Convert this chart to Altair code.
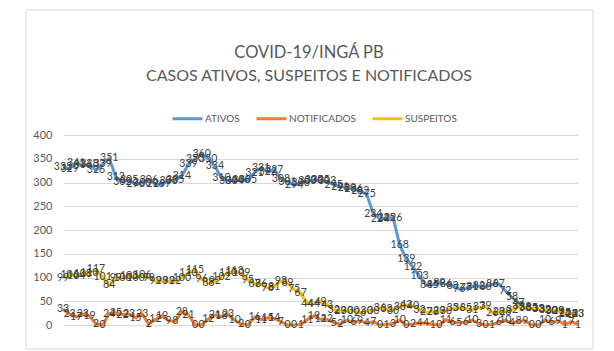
import altair as alt
import pandas as pd

ativos = [332, 329, 341, 336, 338, 326, 339, 351, 312, 302, 305, 296, 300, 306, 296, 297,
          303, 305, 314, 339, 350, 360, 350, 334, 310, 304, 304, 306, 305, 321, 331, 322,
          327, 308, 301, 294, 300, 303, 305, 305, 303, 295, 291, 289, 286, 282, 275, 234,
          224, 225, 226, 168, 139, 122, 103, 84, 85, 89, 86, 83, 76, 77, 81, 82, 80, 86,
          87, 72, 58, 47, 36, 35, 33, 32, 30, 29, 25, 24, 23]
notificados = [33, 23, 17, 23, 19, 2, 0, 24, 25, 22, 23, 15, 23, 2, 12, 19, 9, 8, 28, 21,
               0, 0, 12, 21, 18, 23, 10, 2, 0, 16, 11, 15, 14, 7, 0, 0, 1, 11, 19, 12, 12,
               5, 2, 10, 6, 9, 4, 7, 0, 1, 3, 10, 0, 2, 4, 4, 1, 0, 11, 6, 5, 6, 10, 3, 0,
               1, 6, 10, 4, 8, 9, 0, 0, 10, 6, 9, 1, 7, 1]
suspeitos = [99, 106, 104, 108, 110, 117, 101, 84, 99, 100, 103, 100, 106, 99, 92, 93, 92,
             92, 100, 110, 115, 96, 88, 92, 102, 110, 113, 109, 95, 87, 86, 78, 81, 93, 89,
             75, 67, 44, 44, 49, 43, 32, 29, 30, 30, 26, 30, 30, 36, 33, 30, 38, 42, 40, 32,
             27, 28, 29, 30, 35, 36, 35, 31, 37, 39, 26, 28, 28, 32, 39, 38, 35, 33, 32, 30,
             29, 24, 23, 23]

series_names = ["ATIVOS", "NOTIFICADOS", "SUSPEITOS"]
series_colors = ["#5B9BD5", "#ED7D31", "#FFC000"]
title_lines = ["COVID-19/INGÁ PB", "CASOS ATIVOS, SUSPEITOS E NOTIFICADOS"]
y_ticks = [0, 50, 100, 150, 200, 250, 300, 350, 400]

rows = []
for name, vals in zip(series_names, [ativos, notificados, suspeitos]):
    for i, v in enumerate(vals):
        rows.append({"idx": i, "serie": name, "valor": v})
df = pd.DataFrame(rows)
n = len(ativos) - 1

FONT = "Lato"
W, H = 515, 190

yaxis = alt.Axis(values=y_ticks, tickCount=9, domain=False, ticks=False, labelPadding=11,
                 labelFontSize=11, labelColor="#595959", labelFont=FONT,
                 labelOverlap=False, gridColor="#d9d9d9", title=None)
x = alt.X("idx:Q", scale=alt.Scale(domain=[0, n], nice=False, zero=False), axis=None)
y = alt.Y("valor:Q", scale=alt.Scale(domain=[0, 400], nice=False), axis=yaxis)
color = alt.Color("serie:N", scale=alt.Scale(domain=series_names, range=series_colors),
                  legend=alt.Legend(orient="none", legendX=108, legendY=-33,
                                    direction="horizontal", title=None,
                                    symbolType="stroke", symbolSize=900,
                                    symbolStrokeWidth=3, labelFontSize=10,
                                    labelFont=FONT, labelColor="#595959",
                                    labelOffset=1, columnPadding=10))

base = alt.Chart(df)
lines = base.mark_line(strokeWidth=3).encode(x=x, y=y, color=color,
                                             order=alt.Order("idx:Q"))
labels = base.mark_text(fontSize=10.5, font=FONT, color="#404040").encode(
    x=x, y=y, text="valor:Q")

frame = alt.Chart(pd.DataFrame({"k": [0]})).mark_rect(
    fill="white", fillOpacity=0, stroke="#d9d9d9", strokeWidth=1).encode(
    x=alt.value(-37), x2=alt.value(530), y=alt.value(-125), y2=alt.value(214))

tdf = pd.DataFrame({"t": title_lines, "line": [0, 1]})
title1 = alt.Chart(tdf[tdf.line == 0]).mark_text(
    fontSize=16.5, font=FONT, color="#595959", align="center", baseline="middle").encode(
    text="t:N", x=alt.value(246), y=alt.value(-82))
title2 = alt.Chart(tdf[tdf.line == 1]).mark_text(
    fontSize=16, font=FONT, color="#595959", align="center", baseline="middle").encode(
    text="t:N", x=alt.value(246), y=alt.value(-59))

chart = alt.layer(lines, labels, frame, title1, title2).properties(
    width=W, height=H,
    autosize=alt.AutoSizeParams(type="none"),
    padding={"left": 63, "top": 135, "right": 36, "bottom": 26},
    background="white",
).configure_view(stroke=None)

chart.save("out.html", embed_options={"renderer": "svg", "actions": False})
